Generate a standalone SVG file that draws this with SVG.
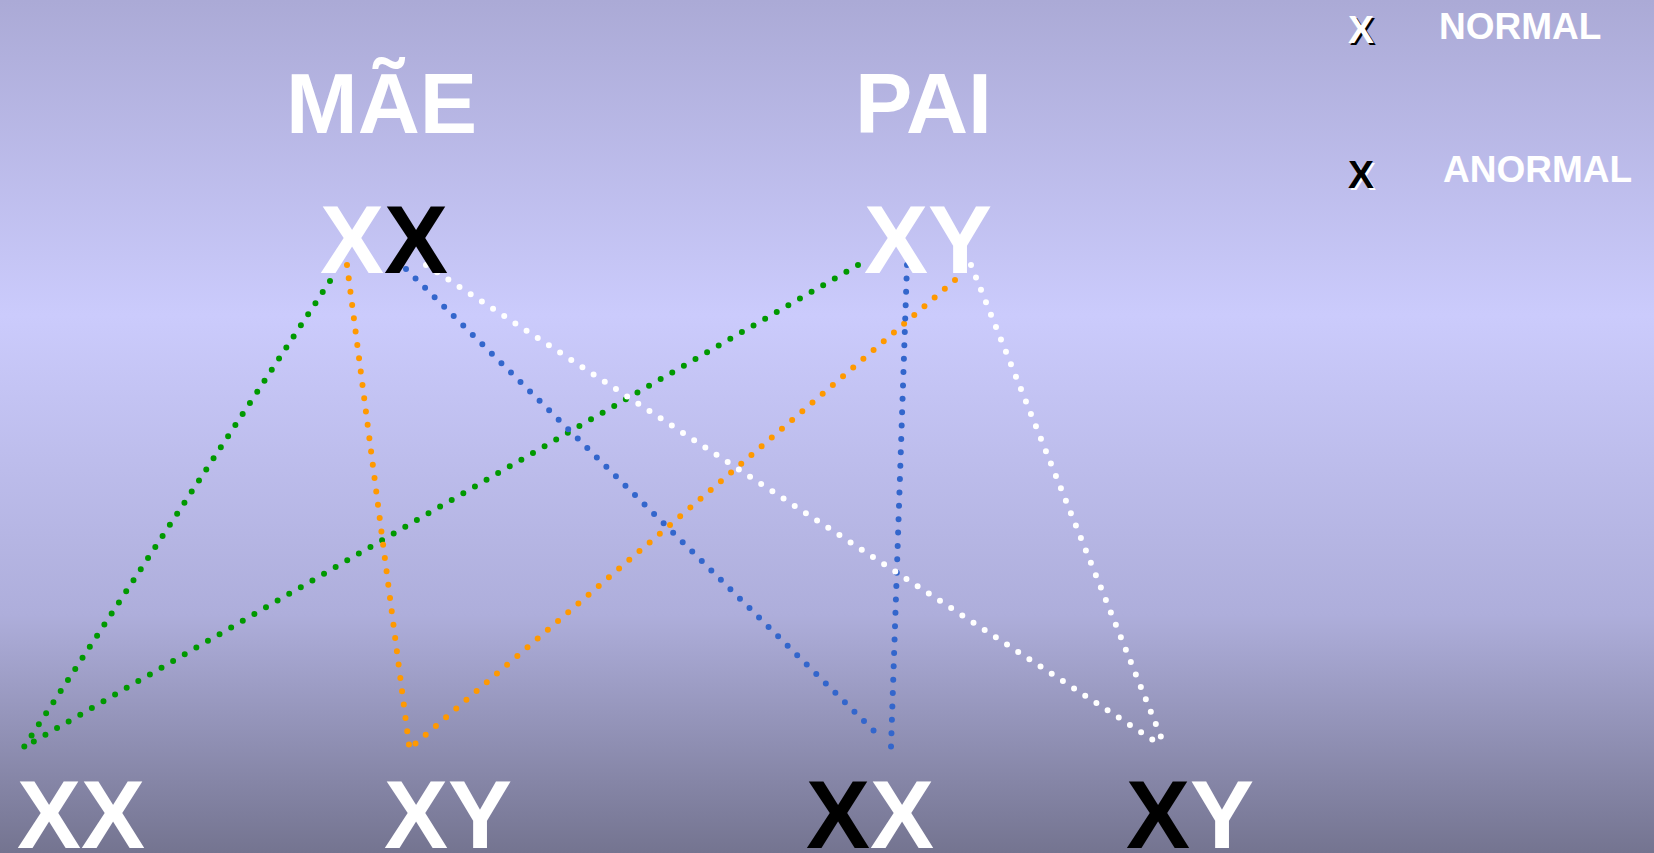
<svg xmlns="http://www.w3.org/2000/svg" width="1654" height="853" viewBox="0 0 1654 853">
<defs>
<linearGradient id="bg" x1="0" y1="0" x2="0" y2="1">
<stop offset="0" stop-color="#abaad6"/>
<stop offset="0.37" stop-color="#cbcbfc"/>
<stop offset="0.72" stop-color="#aeaedb"/>
<stop offset="1" stop-color="#747490"/>
</linearGradient>
<style>
.t{font-family:"Liberation Sans",Arial,sans-serif;font-weight:bold;}
.w{fill:#ffffff;}
.k{fill:#000000;}
.big{font-size:96px;}
.title{font-size:86px;}
.leg{font-size:37px;}
.legx{font-size:39px;}
.dot{fill:none;stroke-width:6;stroke-linecap:round;stroke-dasharray:0 0.999;}
.g{stroke:#009900;}
.o{stroke:#ff9900;}
.b{stroke:#3366cc;}
.wh{stroke:#ffffff;}
</style>
</defs>
<rect x="0" y="0" width="1654" height="853" fill="url(#bg)"/>
<g id="connectors">
<path class="dot g" pathLength="42" d="M330 281L24 747"/>
<path class="dot g" pathLength="71" d="M858 265L33 742"/>
<path class="dot o" pathLength="36" d="M347 265L409 745"/>
<path class="dot o" pathLength="53" d="M955 280L415 744"/>
<path class="dot b" pathLength="49" d="M406 269L874 731"/>
<path class="dot b" pathLength="36" d="M907 265L891 747"/>
<path class="dot wh" pathLength="65" d="M426 265L1153 740"/>
<path class="dot wh" pathLength="38" d="M971 265L1161 737"/>
</g>
<g id="mae-label"><text class="t w title" x="286" y="133">MÃE</text></g>
<g id="pai-label"><text class="t w title" x="855" y="133">PAI</text></g>
<g id="mae"><text class="t big" x="320" y="273"><tspan class="w">X</tspan><tspan class="k">X</tspan></text></g>
<g id="pai"><text class="t w big" x="864" y="273">XY</text></g>
<g id="child1"><text class="t w big" x="17" y="848">XX</text></g>
<g id="child2"><text class="t w big" x="384" y="848">XY</text></g>
<g id="child3"><text class="t big" x="806" y="848"><tspan class="k">X</tspan><tspan class="w">X</tspan></text></g>
<g id="child4"><text class="t big" x="1126" y="848"><tspan class="k">X</tspan><tspan class="w">Y</tspan></text></g>
<g id="legend-normal">
<text class="t k legx" x="1350" y="45">X</text>
<text class="t w legx" x="1348" y="43">X</text>
<text class="t w leg" x="1439" y="39">NORMAL</text>
</g>
<g id="legend-anormal">
<text class="t w legx" x="1350" y="190">X</text>
<text class="t k legx" x="1348" y="188">X</text>
<text class="t w leg" x="1443" y="182">ANORMAL</text>
</g>
</svg>
